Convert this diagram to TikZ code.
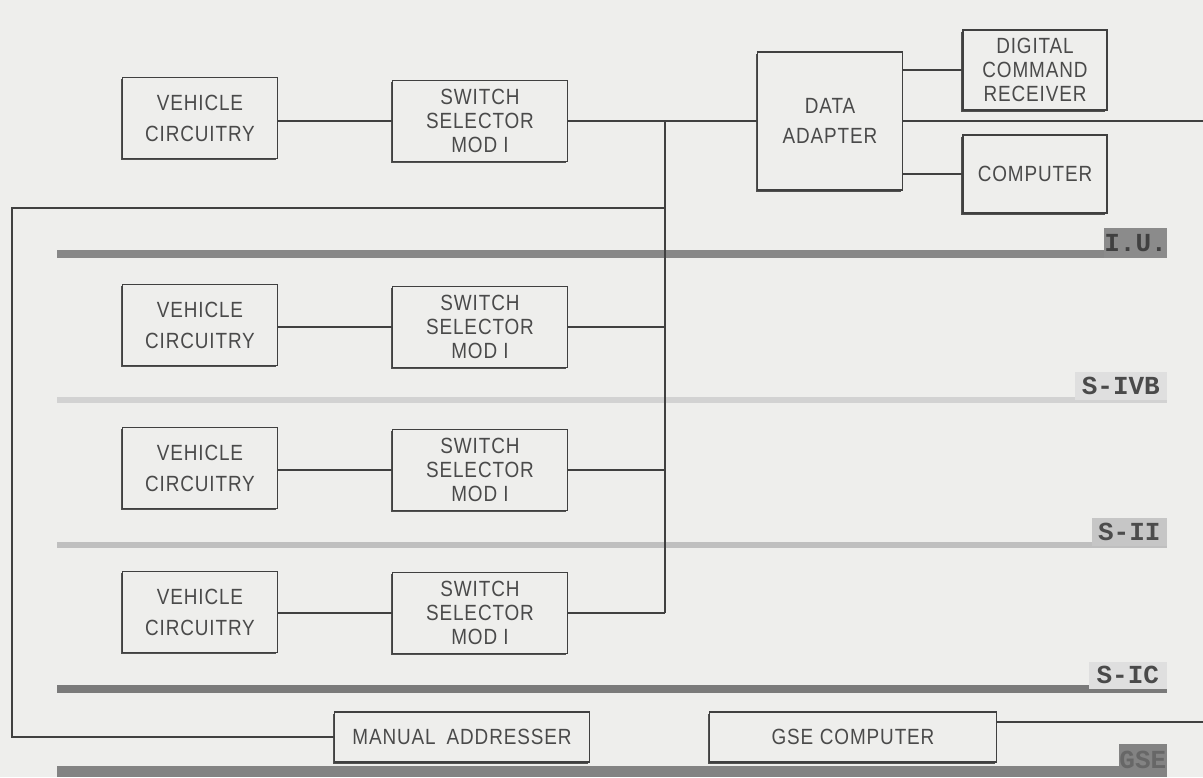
\documentclass[tikz,border=0pt]{standalone}
\usepackage{fontspec}
\usetikzlibrary{shadows}
\setmainfont{Liberation Sans}
\newfontfamily\lettering[FakeStretch=0.86, LetterSpace=4]{Liberation Sans}
\newfontfamily\monof{Liberation Mono}
\definecolor{paper}{HTML}{EEEEEC}
\definecolor{linec}{HTML}{404040}
\definecolor{textc}{HTML}{4A4A4A}
\begin{document}
\begin{tikzpicture}[x=1pt,y=-1pt,
  blk/.style={draw=linec, line width=1.9pt, fill=paper, text=textc, align=center,
    font=\lettering\fontsize{22}{24}\selectfont, inner sep=0pt,
    drop shadow={shadow xshift=-1.6pt, shadow yshift=-1.6pt, fill=linec, opacity=0.9}},
  vcbox/.style={blk, minimum width=155, minimum height=81,
    font=\lettering\fontsize{22}{31}\selectfont},
  ssbox/.style={blk, minimum width=175, minimum height=81},
  wire/.style={draw=linec, line width=1.6pt},
  lab/.style={inner sep=0pt, anchor=south east, text=textc,
    font=\monof\bfseries\fontsize{26}{26}\selectfont}
]
\fill[paper] (0,0) rectangle (1203,777);
\useasboundingbox (0,0) rectangle (1203,777);

% stage bars (drawn first)
\fill[gray!75!black!75] (57,250) rectangle (1167,258);
\fill[gray!35] (57,397) rectangle (1167,403);
\fill[gray!50] (57,542) rectangle (1167,548);
\fill[gray!70!black!80] (57,685) rectangle (1167,693);
\fill[gray!70!black!75] (57,766) rectangle (1167,777);

% coordinates
\coordinate (bt) at (665,121);
\coordinate (bb) at (665,613);
\coordinate (eR) at (1203,121);
\coordinate (lt) at (12,208);
\coordinate (gR) at (1203,722);

% rows of boxes
\node[vcbox] (vc1) at (200,118) {VEHICLE\\CIRCUITRY};
\node[ssbox] (ss1) at (480,121) {SWITCH\\SELECTOR\\MOD I};
\node[vcbox] (vc2) at (200,325) {VEHICLE\\CIRCUITRY};
\node[ssbox] (ss2) at (480,327) {SWITCH\\SELECTOR\\MOD I};
\node[vcbox] (vc3) at (200,468) {VEHICLE\\CIRCUITRY};
\node[ssbox] (ss3) at (480,470) {SWITCH\\SELECTOR\\MOD I};
\node[vcbox] (vc4) at (200,612) {VEHICLE\\CIRCUITRY};
\node[ssbox] (ss4) at (480,613) {SWITCH\\SELECTOR\\MOD I};

% instrument unit
\node[blk, minimum width=145, minimum height=138, font=\lettering\fontsize{22}{30}\selectfont] (da) at (830,121) {DATA\\ADAPTER};
\node[blk, minimum width=144, minimum height=80] (dcr) at (1035,70) {DIGITAL\\COMMAND\\RECEIVER};
\node[blk, minimum width=144, minimum height=78] (comp) at (1035,174) {COMPUTER};

% ground equipment
\node[blk, minimum width=255, minimum height=50] (ma) at (462,737) {MANUAL\hspace{0.5em}ADDRESSER};
\node[blk, minimum width=287, minimum height=50] (gse) at (853,737) {GSE\hspace{0.3em}COMPUTER};

% connectors
\draw[wire] (vc1.east |- ss1.west) -- (ss1.west);
\draw[wire] (vc2.east |- ss2.west) -- (ss2.west);
\draw[wire] (vc3.east |- ss3.west) -- (ss3.west);
\draw[wire] (vc4.east |- ss4.west) -- (ss4.west);
\draw[wire] (ss1.east) -- (da.west);
\draw[wire] (bt) -- (bb);
\draw[wire] (ss2.east) -- (ss2.east -| bt);
\draw[wire] (ss3.east) -- (ss3.east -| bt);
\draw[wire] (ss4.east) -- (ss4.east -| bt);
\draw[wire] (da.east) -- (eR);
\draw[wire] (da.east |- dcr.west) -- (dcr.west);
\draw[wire] (da.east |- comp.west) -- (comp.west);
\draw[wire] (lt -| bt) -- (lt) |- (ma.west);
\draw[wire] (gse.east |- gR) -- (gR);

% stage labels
\node[lab, fill=gray!70!black!70, text=black!75, minimum width=47, minimum height=30] (iu) at (1167,258) {I.U.};
\node[lab, fill=gray!25, minimum width=92, minimum height=28] (sivb) at (1167,400) {S-IVB};
\node[lab, fill=gray!45, text=black!70, minimum width=75, minimum height=28] (sii) at (1167,546) {S-II};
\node[lab, fill=gray!25, minimum width=78, minimum height=27] (sic) at (1167,689) {S-IC};
\node[lab, fill=gray!70!black!75, text=gray!60!black!85, minimum width=48, minimum height=33] (gsel) at (1167,777) {GSE};
\end{tikzpicture}
\end{document}
